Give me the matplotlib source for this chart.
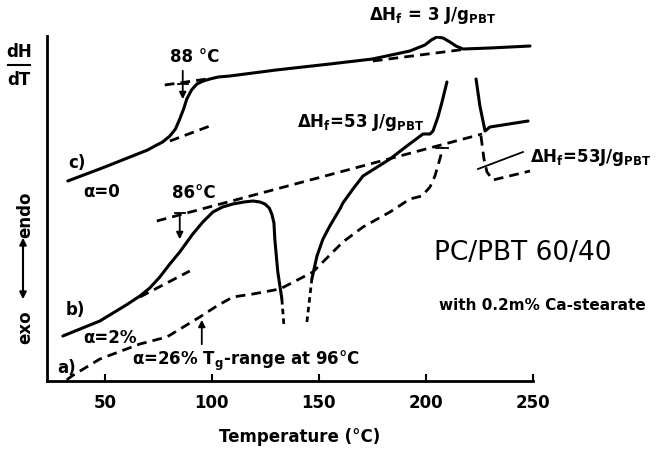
import matplotlib.pyplot as plt
from matplotlib.patches import FancyArrowPatch

# --- data (temperature in degC, signal in arbitrary units) ---
# curve c) alpha = 0 (solid)
c_T = [32.7, 50.0, 70.0, 73.4, 77.0, 80.4, 83.0, 85.0, 86.8, 88.3, 90.5, 93.0,
       96.0, 99.1, 103.0, 108.4, 130.0, 155.1, 175.0, 192.5, 199.5, 202.5,
       205.1, 208.0, 211.2, 214.0, 217.3, 230.0, 248.6]
c_y = [200, 214, 231, 235, 239, 245, 252, 262, 272, 282, 291, 297,
       300, 302, 304, 305, 311, 317, 322, 330, 336, 341,
       344, 343, 339, 335, 332, 333, 335]

# curve b) alpha = 2% (solid, with off-scale melting peak)
b_T_left = [30.4, 47.7, 60.0, 66.4, 71.0, 75.7, 80.0, 85.0, 91.1, 95.8, 100.5,
            105.0, 109.8, 115.0, 119.2, 122.5, 124.8, 126.8, 128.0, 129.0,
            129.4, 130.8, 132.7]
b_y_left = [45, 60, 76, 85, 93, 104, 116, 129, 147, 159, 169,
            174, 177, 179, 180, 179, 177, 173, 167, 158,
            142, 109, 82]
b_T_cut1 = [132.7, 133.6]
b_y_cut1 = [82, 57]
b_T_cut2 = [144.4, 146.7]
b_y_cut2 = [59, 102]
b_T_mid = [146.7, 149.1, 151.9, 155.1, 159.8, 161.2, 165.9, 170.6, 183.2,
           191.1, 198.6, 201.9, 203.3, 205.6, 207.5, 209.8]
b_y_mid = [102, 125, 142, 155, 172, 178, 192, 205, 222,
           235, 247, 247, 250, 264, 279, 299]
b_T_right = [223.4, 225.2, 227.6, 229.9, 247.7]
b_y_right = [302, 275, 250, 254, 260]

# curve a) alpha = 26% (dashed)
a_T = [32.2, 34.6, 47.7, 66.4, 79.0, 94.4, 102.3, 109.8, 119.2, 131.8, 147.2,
       161.2, 170.6, 183.2, 192.5, 198.1, 201.9, 204.2, 206.5, 208.0]
a_y = [1, 5, 22, 37, 44, 64, 75, 84, 87, 92, 109,
       139, 154, 169, 182, 185, 194, 205, 222, 234]
a_T_right = [225.7, 227.1, 228.5, 231.3, 248.6]
a_y_right = [245, 222, 209, 201, 210]

# construction lines (tangents / baselines)
c_tan_hi = ([78.0, 97.7], [296, 302])
c_tan_lo = ([80.4, 99.1], [240, 255])
c_peak_base = ([175.2, 219.2], [320, 332])
b_base = ([74.3, 226.2], [160, 247])
b_tan_lo = ([66.4, 89.7], [84, 110])

x_ticks = [50, 100, 150, 200, 250]

# --- figure ---
W, H = 662, 452
fig = plt.figure(figsize=(W / 100, H / 100), dpi=100)
ax = fig.add_axes([47 / W, 1 - 382 / H, (533 - 47) / W, (382 - 37) / H])
ax.set_xlim(23, 250)
ax.set_ylim(0, 345)

solid = dict(color='black', lw=2.2, solid_capstyle='round', solid_joinstyle='round')
dash = dict(color='black', lw=2.0, linestyle=(0, (3.5, 2.2)))

ax.plot(c_T, c_y, **solid)
ax.plot(b_T_left, b_y_left, **solid)
ax.plot(b_T_mid, b_y_mid, **solid)
ax.plot(b_T_right, b_y_right, **solid)
ax.plot(b_T_cut1, b_y_cut1, color='black', lw=2.0, linestyle=(0, (2, 1.5)))
ax.plot(b_T_cut2, b_y_cut2, color='black', lw=2.0, linestyle=(0, (2, 1.5)))
ax.plot(a_T, a_y, **dash)
ax.plot(a_T_right, a_y_right, **dash)
for xs, ys in [c_tan_hi, c_tan_lo, c_peak_base, b_base, b_tan_lo]:
    ax.plot(xs, ys, **dash)

# thin line marking dHf on the right
ax.plot([224.3, 245.3], [212, 229], color='black', lw=1.3, clip_on=False)
# small cross marks
ax.plot([204.5, 210.5], [233, 233], color='black', lw=1.3)
ax.plot([84.0, 88.8], [297, 297], color='black', lw=1.3)
ax.plot([82.6, 87.4], [168, 168], color='black', lw=1.3)

# arrows: Tg markers
ax.annotate('', xy=(86.4, 279), xytext=(86.4, 313),
            arrowprops=dict(arrowstyle='-|>', color='black', lw=1.3, mutation_scale=10))
ax.annotate('', xy=(85.0, 139), xytext=(85.0, 170),
            arrowprops=dict(arrowstyle='-|>', color='black', lw=1.3, mutation_scale=10))
ax.annotate('', xy=(95.3, 64), xytext=(95.3, 34),
            arrowprops=dict(arrowstyle='-|>', color='black', lw=1.3, mutation_scale=10))

# axes styling
for s in ['top', 'right']:
    ax.spines[s].set_visible(False)
for s in ['left', 'bottom']:
    ax.spines[s].set_linewidth(2.0)
ax.set_yticks([])
ax.set_xticks(x_ticks)
ax.tick_params(axis='x', direction='in', length=5, width=1.5, pad=9,
               labelsize=12)
for lab in ax.get_xticklabels():
    lab.set_fontweight('bold')

bold = dict(fontweight='bold', color='black')


def px(x, y):
    return x / W, 1 - y / H


fig.text(*px(300, 437), 'Temperature (°C)', ha='center', va='center', fontsize=12, **bold)
fig.text(*px(432, 15), r'$\mathbf{\Delta}$H$_\mathbf{f}$ = 3 J/g$_\mathbf{PBT}$',
         ha='center', va='center', fontsize=12, **bold)
fig.text(*px(360, 123), r'$\mathbf{\Delta}$H$_\mathbf{f}$=53 J/g$_\mathbf{PBT}$',
         ha='center', va='center', fontsize=12, **bold)
fig.text(*px(530, 158), r'$\mathbf{\Delta}$H$_\mathbf{f}$=53J/g$_\mathbf{PBT}$',
         ha='left', va='center', fontsize=12, **bold)
fig.text(*px(195, 57), '88 °C', ha='center', va='center', fontsize=12, **bold)
fig.text(*px(194, 193), '86°C', ha='center', va='center', fontsize=12, **bold)
fig.text(*px(77, 163), 'c)', ha='center', va='center', fontsize=12, **bold)
fig.text(*px(83, 192), 'α=0', ha='left', va='center', fontsize=12, **bold)
fig.text(*px(75, 310), 'b)', ha='center', va='center', fontsize=12, **bold)
fig.text(*px(83, 338), 'α=2%', ha='left', va='center', fontsize=12, **bold)
fig.text(*px(67, 368), 'a)', ha='center', va='center', fontsize=12, **bold)
fig.text(*px(132, 361), r'α=26% T$_\mathbf{g}$-range at 96°C', ha='left', va='center',
         fontsize=12, **bold)
fig.text(*px(523, 253), 'PC/PBT 60/40', ha='center', va='center', fontsize=19,
         color='black')
fig.text(*px(542, 305), 'with 0.2m% Ca-stearate', ha='center', va='center',
         fontsize=11, **bold)

# y-axis label: dH/dT and endo <-> exo
fig.text(*px(19, 52), 'dH', ha='center', va='center', fontsize=12, **bold)
fig.text(*px(19, 80), 'dT', ha='center', va='center', fontsize=12, **bold)
fig.add_artist(plt.Line2D([8 / W, 30 / W], [1 - 66 / H, 1 - 66 / H], color='black', lw=1.5))
fig.text(*px(25, 215), 'endo', ha='center', va='center', rotation=90, fontsize=12, **bold)
fig.text(*px(25, 327), 'exo', ha='center', va='center', rotation=90, fontsize=12, **bold)
fig.add_artist(FancyArrowPatch(px(23, 236), px(23, 303), transform=fig.transFigure,
                               arrowstyle='<|-|>', mutation_scale=10, color='black', lw=1.5))

fig.savefig('out.png', dpi=100)
